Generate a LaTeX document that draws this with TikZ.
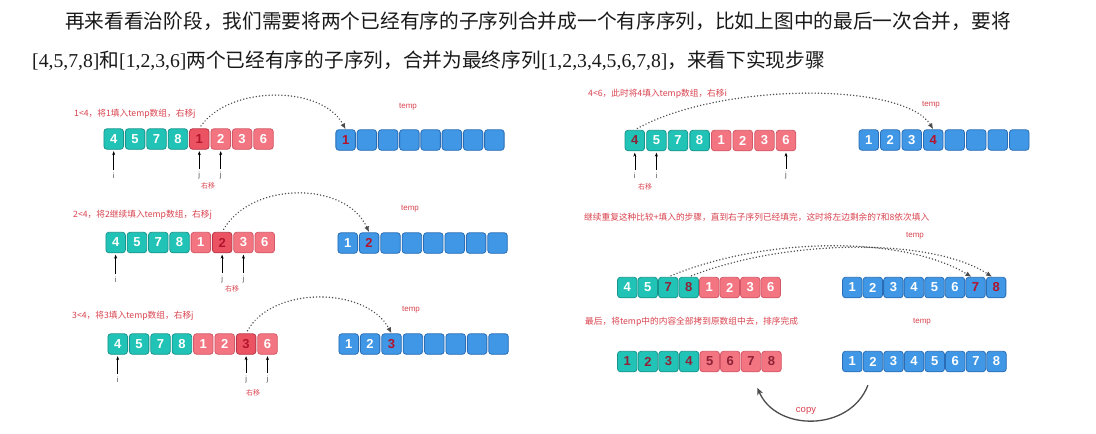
\documentclass[tikz,border=0pt]{standalone}
\usepackage{fontspec}
\setmainfont{Liberation Serif}
\newfontfamily\cjk{Noto Sans CJK SC}
\newfontfamily\numfont{Liberation Sans}
\usetikzlibrary{arrows.meta}
\definecolor{tealF}{HTML}{22C3B7}
\definecolor{tealD}{HTML}{17958D}
\definecolor{pinkF}{HTML}{F27581}
\definecolor{pinkD}{HTML}{D35766}
\definecolor{pinkH}{HTML}{EC5362}
\definecolor{pinkHD}{HTML}{B73647}
\definecolor{blueF}{HTML}{3F97E6}
\definecolor{blueD}{HTML}{2A6DB5}
\definecolor{redT}{HTML}{B3142C}
\definecolor{darkR}{HTML}{8E2236}
\definecolor{noteR}{HTML}{D9434F}
\tikzset{
  cell/.style={draw, rounded corners=3pt, minimum width=19.5pt, minimum height=20.5pt,
    inner sep=0pt, line width=0.8pt, text=white,
    font=\numfont\bfseries\fontsize{13}{13}\selectfont},
  tl/.style={fill=tealF, draw=tealD},
  tlr/.style={fill=tealF, draw=tealD, text=darkR},
  pk/.style={fill=pinkF, draw=pinkD},
  pkr/.style={fill=pinkF, draw=pinkD, text=darkR},
  pkh/.style={fill=pinkH, draw=pinkHD, text=redT},
  bl/.style={fill=blueF, draw=blueD},
  blr/.style={fill=blueF, draw=blueD, text=redT},
  note/.style={font=\cjk\fontsize{8.7}{9}\selectfont, text=noteR, anchor=west, inner sep=0pt},
  templbl/.style={font=\numfont\fontsize{8}{8}\selectfont, text=noteR, inner sep=0pt},
  idx/.style={font=\numfont\fontsize{7.5}{8}\selectfont, text=black!70, inner sep=0pt},
  shiftlbl/.style={font=\cjk\fontsize{7}{8}\selectfont, text=noteR, inner sep=0pt},
  ptr/.style={-{Stealth[length=4pt,width=3pt]}, line width=0.6pt, black, shorten <=3pt, shorten >=1.5pt},
  dcurve/.style={draw=black!70, line width=1.6pt, dash pattern=on 0.01pt off 3.2pt, line cap=round,
    -{Latex[length=6pt,width=5pt]}, shorten <=3pt},
  copyarrow/.style={draw=black!70, line width=1.3pt, -{Stealth[length=7pt,width=6pt]},
    shorten <=14pt, shorten >=17pt},
  toptext/.style={font=\cjk\fontsize{19.7}{20}\selectfont, anchor=west, inner sep=0pt, text=black!90}
}
% name, x-left, y-center, pitch, items
\newcommand\cellrow[5]{%
  \foreach \st/\v [count=\k from 0] in {#5} {
    \node[cell,\st] (#1\k) at ({#2+\k*#4+#4/2},#3) {\v};
  }%
}
% cell, label, label y
\newcommand\pointer[3]{%
  \node[idx] (lab-#1) at (#1 |- 0,#3) {#2};
  \draw[ptr] (lab-#1.north) -- (#1.south);
}
\begin{document}
\begin{tikzpicture}[x=1pt,y=-1pt]
\useasboundingbox[fill=white] (0,0) rectangle (1096,434);

% top text
\node[toptext] (line1) at (65,21) {再来看看治阶段，我们需要将两个已经有序的子序列合并成一个有序序列，比如上图中的最后一次合并，要将};
\node[toptext] (line2) at (32,61) {{\rmfamily [4,5,7,8]}和{\rmfamily [1,2,3,6]}两个已经有序的子序列，合并为最终序列{\rmfamily [1,2,3,4,5,6,7,8]}，来看下实现步骤};

% ---------- left panel 1 ----------
\node[note] (n1) at (74,114) {1<4，将1填入temp数组，右移j};
\cellrow{a}{103}{139}{21.4}{tl/4,tl/5,tl/7,tl/8,pkh/1,pk/2,pk/3,pk/6}
\node[templbl] (tmp1) at (408,107) {temp};
\cellrow{ta}{335}{140}{21.25}{blr/1,bl/{},bl/{},bl/{},bl/{},bl/{},bl/{},bl/{}}
\pointer{a0}{i}{176}
\pointer{a4}{j}{176}
\pointer{a5}{j}{176}
\node[shiftlbl] (s1) at (208,186) {右移};
\draw[dcurve] (a4.north) .. controls (230,85) and (322,85) .. (ta0.north);

% ---------- left panel 2 ----------
\node[note] (n2) at (73,215) {2<4，将2继续填入temp数组，右移j};
\cellrow{b}{105}{242.5}{21.3}{tl/4,tl/5,tl/7,tl/8,pk/1,pkh/2,pk/3,pk/6}
\node[templbl] (tmp2) at (410,209) {temp};
\cellrow{tb}{337}{243}{21.4}{bl/1,blr/2,bl/{},bl/{},bl/{},bl/{},bl/{},bl/{}}
\pointer{b0}{i}{280}
\pointer{b5}{j}{280}
\pointer{b6}{j}{280}
\node[shiftlbl] (s2) at (232,289) {右移};
\draw[dcurve] (b5.north) .. controls (252,181) and (346,181) .. (tb1.north);

% ---------- left panel 3 ----------
\node[note] (n3) at (72,316) {3<4，将3填入temp数组，右移j};
\cellrow{c}{107}{344}{21.4}{tl/4,tl/5,tl/7,tl/8,pk/1,pk/2,pkh/3,pk/6}
\node[templbl] (tmp3) at (411,310) {temp};
\cellrow{tc}{338}{344}{21.4}{bl/1,bl/2,blr/3,bl/{},bl/{},bl/{},bl/{},bl/{}}
\pointer{c0}{i}{380}
\pointer{c6}{j}{380}
\pointer{c7}{j}{380}
\node[shiftlbl] (s3) at (253,393) {右移};
\draw[dcurve] (c6.north) .. controls (272,286) and (366,286) .. (tc2.north);

% ---------- right panel 1 ----------
\node[note] (n4) at (588,94) {4<6，此时将4填入temp数组，右移i};
\cellrow{d}{624}{140.5}{21.6}{tlr/4,tl/5,tl/7,tl/8,pk/1,pk/2,pk/3,pk/6}
\node[templbl] (tmp4) at (931,105) {temp};
\cellrow{td}{858}{140}{21.5}{bl/1,bl/2,bl/3,blr/4,bl/{},bl/{},bl/{},bl/{}}
\pointer{d0}{i}{176}
\pointer{d1}{i}{176}
\pointer{d7}{j}{176}
\node[shiftlbl] (s4) at (645,187) {右移};
\draw[dcurve] (d0.north) .. controls (722,82) and (904,82) .. (td3.north);

% ---------- right panel 2 ----------
\node[note] (n5) at (584,217) {继续重复这种比较+填入的步骤，直到右子序列已经填完，这时将左边剩余的7和8依次填入};
\node[templbl] (tmp5) at (915,236) {temp};
\cellrow{e}{617}{287.5}{20.5}{tl/4,tl/5,tlr/7,tlr/8,pk/1,pk/2,pk/3,pk/6}
\cellrow{te}{842}{287.5}{20.55}{bl/1,bl/2,bl/3,bl/4,bl/5,bl/6,blr/7,blr/8}
\draw[dcurve] (e2.north) .. controls (768,236) and (904,236) .. ([xshift=-4pt]te6.north);
\draw[dcurve] (e3.north) .. controls (789,238) and (933,238) .. ([xshift=-4pt]te7.north);

% ---------- right panel 3 ----------
\node[note] (n6) at (585,322) {最后，将temp中的内容全部拷到原数组中去，排序完成};
\node[templbl] (tmp6) at (922,322) {temp};
\cellrow{f}{617}{361.5}{20.6}{tlr/1,tlr/2,tlr/3,tlr/4,pkr/5,pkr/6,pkr/7,pkr/8}
\cellrow{tf}{842}{361.5}{20.6}{bl/1,bl/2,bl/3,bl/4,bl/5,bl/6,bl/7,bl/8}
\draw[copyarrow] (tf1.south) .. controls (850,432) and (776,432) .. (f6.south);
\node[templbl, font=\numfont\fontsize{9.5}{10}\selectfont] (copy) at (806,411) {copy};
\end{tikzpicture}
\end{document}
